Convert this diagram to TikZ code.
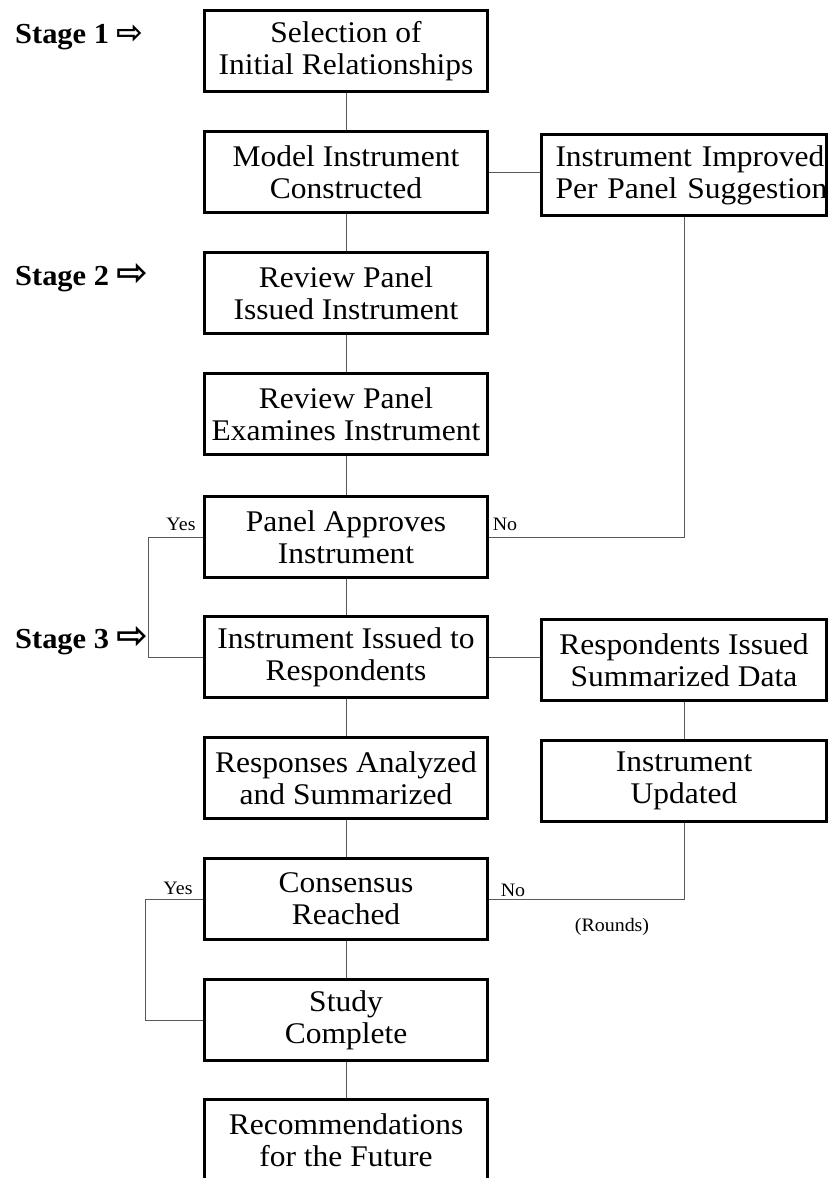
\documentclass[tikz,border=0pt]{standalone}
\usepackage{fontspec}
\setmainfont{Liberation Serif}[FakeStretch=1.05]
\newfontfamily\arrowfont{DejaVu Sans}
\usetikzlibrary{positioning}
\tikzset{
    flow diagram/.style = {x=1pt, y=-1pt},
    line/.style         = {line width=1pt, draw=black!65},
    block/.style        = {draw, line width=2.4pt, fill=white,
                           minimum width=283pt, minimum height=81pt,
                           inner sep=0pt, align=center,
                           font=\fontsize{30}{32}\selectfont},
    sideblock/.style    = {block, minimum width=285pt},
    cutblock/.style     = {sideblock, text width=257pt, inner xsep=14pt},
    stage/.style        = {anchor=base west, inner sep=0pt,
                           font=\fontsize{29}{32}\selectfont\bfseries},
    answer/.style       = {inner sep=0pt, font=\fontsize{19}{20}\selectfont}
}

\begin{document}
\begin{tikzpicture}[flow diagram]
\useasboundingbox (0,0) rectangle (830,1178);

% ================= Main column =================
\node[block] (select)    at (346,   51) {Selection of\\Initial Relationships};
\node[block] (model)     at (346,  172) {Model Instrument\\Constructed};
\node[block] (issued)    at (346,  293) {Review Panel\\Issued Instrument};
\node[block] (examines)  at (346,  414) {Review Panel\\Examines Instrument};
\node[block] (approves)  at (346,  537) {Panel Approves\\Instrument};
\node[block] (torespond) at (346,  657) {Instrument Issued to\\Respondents};
\node[block] (analyzed)  at (346,  778) {Responses Analyzed\\and Summarized};
\node[block] (consensus) at (346,  899) {Consensus\\Reached};
\node[block] (complete)  at (346, 1020) {Study\\Complete};
\node[block] (future)    at (346, 1140) {Recommendations\\for the Future};

\draw[line] (select)    -- (model);
\draw[line] (model)     -- (issued);
\draw[line] (issued)    -- (examines);
\draw[line] (examines)  -- (approves);
\draw[line] (approves)  -- (torespond);
\draw[line] (torespond) -- (analyzed);
\draw[line] (analyzed)  -- (consensus);
\draw[line] (consensus) -- (complete);
\draw[line] (complete)  -- (future);

% ================= Right column =================
\node[cutblock]  (improved) at (684, 175) {\mbox{Instrument Improved}\\\mbox{Per Panel Suggestion}};
\node[sideblock] (summary)  at (684, 660) {Respondents Issued\\Summarized Data};
\node[sideblock] (updated)  at (684, 781) {Instrument\\Updated};

\draw[line] (model.east) -- (model.east -| improved.west);
\draw[line] (approves.east) -| (improved.south);
\draw[line] (torespond.east) -- (torespond.east -| summary.west);
\draw[line] (summary) -- (updated);
\draw[line] (updated.south) |- (consensus.east);

% ================= Yes loops =================
\draw[line] (approves.west) -- ++(-55,0) |- (torespond.west);
\draw[line] (consensus.west) -- ++(-58,0) |- (complete.west);

% ================= Labels =================
\node[stage] (stage1) at (15,  43) {Stage 1 {\arrowfont\fontsize{32}{32}\selectfont ⇨}};
\node[stage] (stage2) at (15, 285) {Stage 2 {\arrowfont\fontsize{38}{38}\selectfont ⇨}};
\node[stage] (stage3) at (15, 648) {Stage 3 {\arrowfont\fontsize{38}{38}\selectfont ⇨}};

\node[answer] (yes1)   at (181, 524) {Yes};
\node[answer] (no1)    at (505, 524) {No};
\node[answer] (yes2)   at (178, 888) {Yes};
\node[answer] (no2)    at (513, 890) {No};
\node[answer] (rounds) at (612, 927) {(Rounds)};

\end{tikzpicture}
\end{document}
